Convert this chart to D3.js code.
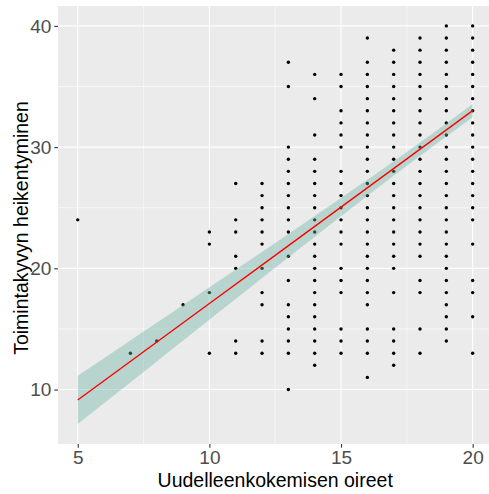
<!DOCTYPE html>
<html><head><meta charset="utf-8">
<script src="https://cdn.jsdelivr.net/npm/d3@7"></script>
<style>body{margin:0;background:#fff;} svg{display:block;}</style>
</head><body>
<svg id="chart" width="489" height="494"></svg>
<script>
// ---- data ----
const pointX = [5, 7, 8, 9, 10, 11, 12, 13, 14, 15, 16, 17, 18, 19, 20];
const pointYs = [
  [24],
  [13],
  [14],
  [17],
  [13, 18, 22, 23],
  [13, 14, 20, 21, 23, 24, 27],
  [13, 14, 17, 18, 20, 22, 23, 24, 25, 26, 27],
  [10, 13, 14, 15, 16, 17, 19, 21, 23, 24, 25, 26, 27, 28, 29, 30, 35, 37],
  [12, 13, 14, 15, 16, 17, 18, 19, 20, 21, 22, 23, 24, 25, 26, 27, 28, 29, 31, 34, 36],
  [13, 14, 15, 18, 19, 20, 22, 23, 24, 25, 26, 27, 28, 30, 31, 32, 33, 35, 36],
  [11, 13, 14, 15, 17, 18, 19, 20, 21, 22, 23, 24, 25, 26, 27, 28, 29, 30, 31, 32, 33, 34, 35, 36, 37, 39],
  [12, 13, 14, 15, 18, 20, 21, 22, 23, 24, 25, 26, 27, 28, 29, 30, 31, 32, 33, 34, 35, 36, 37, 38],
  [13, 15, 18, 19, 21, 22, 23, 24, 25, 26, 27, 28, 29, 30, 31, 32, 33, 34, 35, 36, 37, 38, 39],
  [14, 15, 16, 17, 18, 19, 20, 21, 22, 23, 24, 25, 26, 27, 28, 29, 30, 31, 32, 33, 34, 35, 36, 37, 38, 39, 40],
  [13, 16, 18, 19, 22, 24, 25, 26, 27, 28, 29, 30, 31, 32, 33, 34, 35, 36, 37, 38, 39, 40]
];
const fitX     = [5, 7.5, 10, 12.5, 15, 17.5, 20];
const fitY     = [9.14, 13.12, 17.10, 21.07, 25.05, 29.03, 33.01];
const fitLower = [7.15, 11.45, 15.76, 20.04, 24.30, 28.47, 32.46];
const fitUpper = [11.13, 14.78, 18.44, 22.10, 25.80, 29.59, 33.56];
const xTicks = [5, 10, 15, 20];
const yTicks = [10, 20, 30, 40];
const xMinor = [7.5, 12.5, 17.5];
const yMinor = [15, 25, 35];
const xTitle = "Uudelleenkokemisen oireet";
const yTitle = "Toimintakyvyn heikentyminen";

// ---- layout ----
const panel = {left: 58, top: 6, right: 492.4, bottom: 444};
const points = [];
pointX.forEach((x, i) => pointYs[i].forEach(y => points.push({x, y})));

function expand(lo, hi) { const d = (hi - lo) * 0.05; return [lo - d, hi + d]; }
const xExt = d3.extent(pointX.concat(fitX));
const yExt = d3.extent(points.map(p => p.y).concat(fitLower, fitUpper));
const x = d3.scaleLinear().domain(expand(xExt[0], xExt[1])).range([panel.left, panel.right]);
const y = d3.scaleLinear().domain(expand(yExt[0], yExt[1])).range([panel.bottom, panel.top]);

const svg = d3.select("#chart");
const font = "'Liberation Sans', Arial, sans-serif";

svg.append("rect").attr("x", panel.left).attr("y", panel.top)
  .attr("width", panel.right - panel.left).attr("height", panel.bottom - panel.top)
  .attr("fill", "#EBEBEB");

const grid = svg.append("g");
grid.selectAll(".xm").data(xMinor).join("line")
  .attr("x1", d => x(d)).attr("x2", d => x(d)).attr("y1", panel.top).attr("y2", panel.bottom)
  .attr("stroke", "#fff").attr("stroke-width", 0.55);
grid.selectAll(".ym").data(yMinor).join("line")
  .attr("y1", d => y(d)).attr("y2", d => y(d)).attr("x1", panel.left).attr("x2", panel.right)
  .attr("stroke", "#fff").attr("stroke-width", 0.55);
grid.selectAll(".xM").data(xTicks).join("line")
  .attr("x1", d => x(d)).attr("x2", d => x(d)).attr("y1", panel.top).attr("y2", panel.bottom)
  .attr("stroke", "#fff").attr("stroke-width", 1.1);
grid.selectAll(".yM").data(yTicks).join("line")
  .attr("y1", d => y(d)).attr("y2", d => y(d)).attr("x1", panel.left).attr("x2", panel.right)
  .attr("stroke", "#fff").attr("stroke-width", 1.1);

// points
svg.append("g").selectAll("circle").data(points).join("circle")
  .attr("cx", d => x(d.x)).attr("cy", d => y(d.y)).attr("r", 1.7).attr("fill", "#000");

// confidence band
const band = fitX.map((v, i) => ({x: v, lo: fitLower[i], hi: fitUpper[i], f: fitY[i]}));
svg.append("path").datum(band)
  .attr("d", d3.area().x(d => x(d.x)).y0(d => y(d.lo)).y1(d => y(d.hi)).curve(d3.curveMonotoneX))
  .attr("fill", "#69b3a2").attr("fill-opacity", 0.4);
svg.append("path").datum(band)
  .attr("d", d3.line().x(d => x(d.x)).y(d => y(d.f)))
  .attr("fill", "none").attr("stroke", "#FF0000").attr("stroke-width", 1.4);

// axes
const xAxis = svg.append("g").attr("transform", `translate(0,${panel.bottom})`)
  .call(d3.axisBottom(x).tickValues(xTicks).tickSize(3.7).tickPadding(3).tickFormat(d3.format("d")));
const yAxis = svg.append("g").attr("transform", `translate(${panel.left},0)`)
  .call(d3.axisLeft(y).tickValues(yTicks).tickSize(3.7).tickPadding(3).tickFormat(d3.format("d")));
[xAxis, yAxis].forEach(a => {
  a.select(".domain").remove();
  a.selectAll(".tick line").attr("stroke", "#333333").attr("stroke-width", 1.1);
  a.selectAll(".tick text").attr("fill", "#4D4D4D").style("font-family", font).style("font-size", "19px");
});

svg.append("text").attr("x", (panel.left + panel.right) / 2).attr("y", 487)
  .attr("text-anchor", "middle").style("font-family", font).style("font-size", "19.5px")
  .attr("fill", "#000").text(xTitle);
svg.append("text").attr("transform", `translate(28,${(panel.top + panel.bottom) / 2 + 3}) rotate(-90)`)
  .attr("text-anchor", "middle").style("font-family", font).style("font-size", "19.5px")
  .attr("fill", "#000").text(yTitle);
</script>
</body></html>
